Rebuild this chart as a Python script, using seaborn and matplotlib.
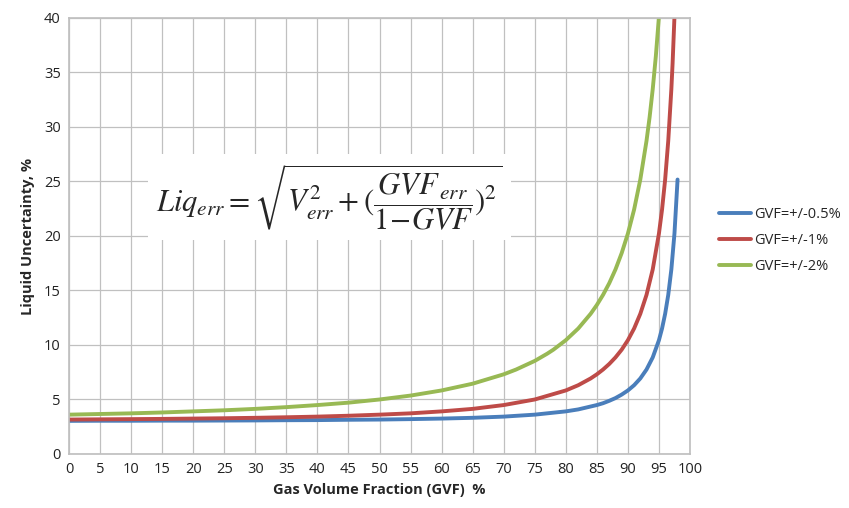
import matplotlib.pyplot as plt
import pandas as pd
import seaborn as sns

# values (Gas Volume Fraction % -> Liquid Uncertainty %)
gvf_blue = [0, 5, 10, 15, 20, 25, 30, 35, 40, 45, 50, 55, 60, 65, 70, 75, 80, 82, 85, 86, 87, 88, 89, 90,
            91, 92, 93, 94, 95, 95.5, 96, 96.5, 97, 97.5, 98]
unc_blue = [3.04, 3.05, 3.05, 3.06, 3.06, 3.07, 3.08, 3.10, 3.11, 3.14, 3.16, 3.20, 3.25, 3.32, 3.43, 3.61,
            3.91, 4.09, 4.49, 4.66, 4.88, 5.13, 5.45, 5.83, 6.31, 6.93, 7.75, 8.86, 10.44, 11.51, 12.86,
            14.60, 16.93, 20.22, 25.18]

gvf_red = [0, 5, 10, 15, 20, 25, 30, 35, 40, 45, 50, 55, 60, 65, 70, 75, 80, 82, 84, 85, 86, 87, 88, 89,
           90, 91, 92, 93, 94, 95, 95.5, 96, 96.5, 97, 97.2, 97.5]
unc_red = [3.16, 3.18, 3.20, 3.22, 3.25, 3.28, 3.32, 3.37, 3.43, 3.51, 3.61, 3.73, 3.91, 4.14, 4.49, 5.00,
           5.83, 6.31, 6.93, 7.31, 7.75, 8.26, 8.86, 9.57, 10.44, 11.51, 12.86, 14.60, 16.93, 20.22,
           22.42, 25.18, 28.73, 33.47, 35.84, 40.11]

gvf_green = [0, 5, 10, 15, 20, 25, 30, 35, 40, 45, 50, 55, 60, 65, 70, 72, 75, 77, 78, 80, 82, 84, 85, 86,
             87, 88, 89, 90, 91, 92, 93, 93.5, 94, 94.5, 95]
unc_green = [3.61, 3.67, 3.73, 3.81, 3.91, 4.01, 4.14, 4.30, 4.49, 4.71, 5.00, 5.36, 5.83, 6.45, 7.31, 7.75,
             8.54, 9.20, 9.57, 10.44, 11.51, 12.86, 13.67, 14.60, 15.67, 16.93, 18.43, 20.22, 22.42,
             25.18, 28.73, 30.91, 33.47, 36.49, 40.11]

series_names = ["GVF=+/-0.5%", "GVF=+/-1%", "GVF=+/-2%"]
colors = ["#4a7ebb", "#be4b48", "#98b954"]

sns.set_theme(style="white")
plt.rcParams["font.family"] = ["Open Sans", "DejaVu Sans"]
plt.rcParams["mathtext.fontset"] = "stix"

fig = plt.figure(figsize=(8.49, 5.08), dpi=100)
ax = fig.add_axes([0.0813, 0.1063, 0.7314, 0.8583])

for xs, ys, name, c in zip([gvf_blue, gvf_red, gvf_green], [unc_blue, unc_red, unc_green], series_names, colors):
    df = pd.DataFrame({"gvf": xs, "unc": ys})
    sns.lineplot(data=df, x="gvf", y="unc", ax=ax, color=c, linewidth=2.8, label=name)

ax.set_xlim(0, 100)
ax.set_ylim(0, 40)
ax.set_xticks(range(0, 101, 5))
ax.set_yticks(range(0, 41, 5))
ax.grid(True, color="#c0c0c0", linewidth=0.9)
ax.set_axisbelow(True)
for s in ax.spines.values():
    s.set_color("#c0c0c0")
ax.tick_params(axis="both", labelsize=10.5, colors="#222222", length=0, pad=6)

ax.set_xlabel("Gas Volume Fraction (GVF)  %", fontsize=10.5, fontweight="bold", labelpad=4)
ax.set_ylabel("Liquid Uncertainty, %", fontsize=10.5, fontweight="bold", labelpad=6)

ax.text(0.14, 0.59,
        r"$Liq_{err} = \sqrt{V_{err}^{2} + (\dfrac{GVF_{\,err}}{1\!-\!GVF})^{2}}$",
        transform=ax.transAxes, fontsize=22, ha="left", va="center",
        bbox=dict(facecolor="white", edgecolor="none", pad=6))

leg = ax.legend(loc="center left", bbox_to_anchor=(1.025, 0.49), frameon=False,
                fontsize=10.5, handlelength=2.2, handletextpad=0.2, labelspacing=0.75)

plt.savefig("out.png", dpi=100)
plt.close()
